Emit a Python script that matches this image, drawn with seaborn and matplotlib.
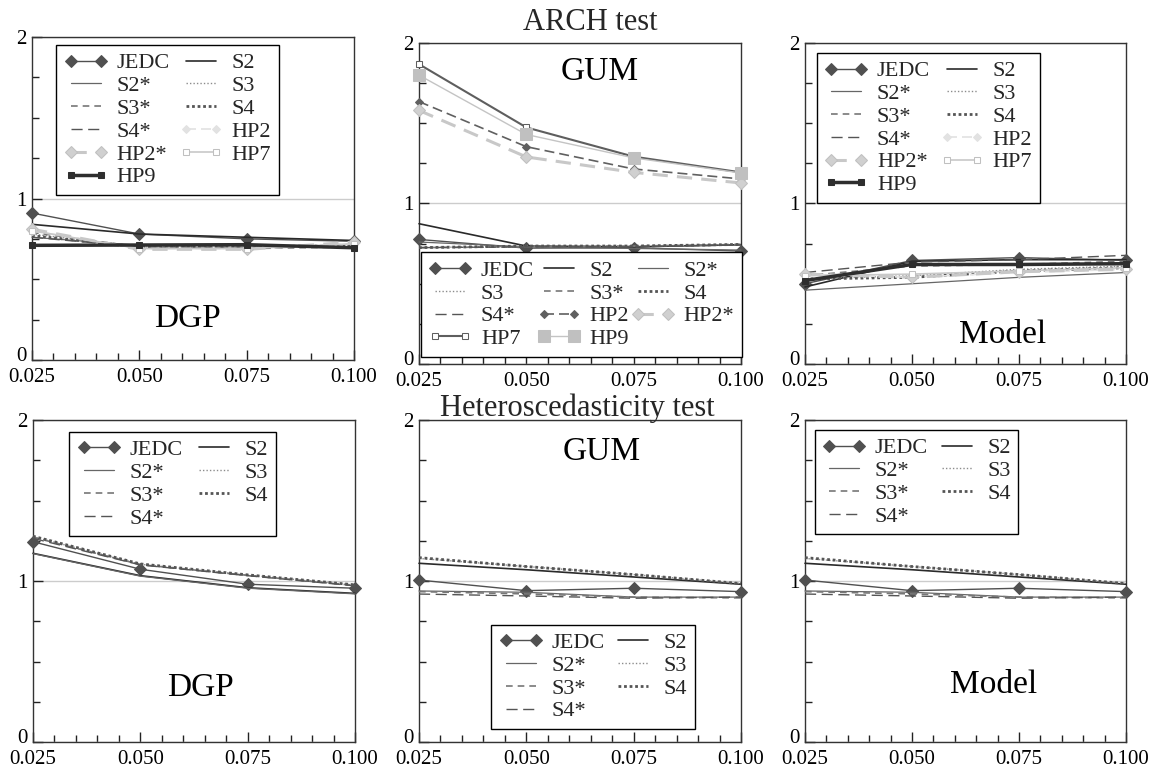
import matplotlib
matplotlib.use("Agg")
import matplotlib.pyplot as plt
import matplotlib.transforms as mtransforms
from matplotlib.ticker import FixedLocator, MultipleLocator
import seaborn as sns

# ---------------- data ----------------
alpha = [0.025, 0.050, 0.075, 0.100]
xtick_labels = ["0.025", "0.050", "0.075", "0.100"]
ytick_values = [0, 1, 2]
ytick_labels = ["0", "1", "2"]

series_all = ["JEDC", "S2", "S2*", "S3", "S3*", "S4", "S4*", "HP2", "HP2*", "HP7", "HP9"]
series_het = ["JEDC", "S2", "S2*", "S3", "S3*", "S4", "S4*"]

# ARCH test, DGP
arch_dgp = [
    [0.91, 0.78, 0.75, 0.735],   # JEDC
    [0.84, 0.78, 0.76, 0.74],    # S2
    [0.76, 0.71, 0.71, 0.70],    # S2*
    [0.78, 0.70, 0.70, 0.71],    # S3
    [0.79, 0.70, 0.69, 0.70],    # S3*
    [0.77, 0.70, 0.70, 0.71],    # S4
    [0.76, 0.70, 0.70, 0.70],    # S4*
    [0.80, 0.69, 0.69, 0.72],    # HP2
    [0.81, 0.685, 0.685, 0.73],  # HP2*
    [0.80, 0.69, 0.69, 0.72],    # HP7
    [0.71, 0.712, 0.714, 0.695], # HP9
]
# ARCH test, GUM
arch_gum = [
    [0.776, 0.722, 0.724, 0.704],
    [0.874, 0.735, 0.730, 0.743],
    [0.760, 0.730, 0.720, 0.710],
    [0.725, 0.735, 0.735, 0.745],
    [0.725, 0.730, 0.735, 0.745],
    [0.725, 0.735, 0.735, 0.745],
    [0.725, 0.730, 0.730, 0.742],
    [1.635, 1.354, 1.215, 1.153],
    [1.580, 1.290, 1.194, 1.128],
    [1.868, 1.474, 1.292, 1.194],
    [1.800, 1.430, 1.284, 1.190],
]
# ARCH test, Model
arch_model = [
    [0.50, 0.645, 0.663, 0.646],
    [0.48, 0.640, 0.650, 0.650],
    [0.46, 0.500, 0.540, 0.570],
    [0.53, 0.550, 0.590, 0.610],
    [0.55, 0.610, 0.620, 0.640],
    [0.53, 0.540, 0.580, 0.600],
    [0.57, 0.635, 0.650, 0.677],
    [0.56, 0.540, 0.570, 0.590],
    [0.56, 0.540, 0.575, 0.590],
    [0.55, 0.560, 0.580, 0.600],
    [0.52, 0.620, 0.620, 0.625],
]
# Heteroscedasticity test, DGP
het_dgp = [
    [1.244, 1.073, 0.980, 0.955],
    [1.172, 1.033, 0.958, 0.923],
    [1.170, 1.030, 0.955, 0.920],
    [1.275, 1.104, 1.037, 0.975],
    [1.272, 1.102, 1.035, 0.972],
    [1.278, 1.106, 1.038, 0.976],
    [1.265, 1.100, 1.033, 0.970],
]
# Heteroscedasticity test, GUM
het_gum = [
    [1.006, 0.940, 0.955, 0.934],
    [1.110, 1.070, 1.025, 0.980],
    [0.938, 0.930, 0.900, 0.900],
    [1.140, 1.090, 1.040, 0.985],
    [0.934, 0.920, 0.900, 0.895],
    [1.145, 1.090, 1.040, 0.984],
    [0.919, 0.907, 0.893, 0.900],
]
# Heteroscedasticity test, Model
het_model = [
    [1.006, 0.940, 0.955, 0.934],
    [1.110, 1.070, 1.025, 0.980],
    [0.938, 0.930, 0.900, 0.900],
    [1.140, 1.090, 1.040, 0.985],
    [0.934, 0.920, 0.900, 0.895],
    [1.145, 1.090, 1.040, 0.984],
    [0.919, 0.907, 0.893, 0.900],
]

# ---------------- styles ----------------
sns.set_theme(style="ticks")
plt.rcParams["font.family"] = ["Liberation Serif", "DejaVu Serif"]

style_a = {
    "JEDC": dict(color="#505050", linestyle="-", lw=1.0, marker="D", ms=6.5, mfc="#505050", mec="#505050"),
    "S2":   dict(color="#2a2a2a", linestyle="-", lw=1.2),
    "S2*":  dict(color="#666666", linestyle="-", lw=0.9),
    "S3":   dict(color="#8c8c8c", linestyle=(0, (1, 1.5)), lw=1.0),
    "S3*":  dict(color="#777777", linestyle=(0, (4, 3)), lw=1.2),
    "S4":   dict(color="#555555", linestyle=(0, (1, 1)), lw=2.0),
    "S4*":  dict(color="#555555", linestyle=(0, (8, 4)), lw=1.0),
    "HP2":  dict(color="#e2e2e2", linestyle=(0, (6, 3)), lw=1.2, marker="D", ms=4, mfc="#e2e2e2", mec="#e2e2e2"),
    "HP2*": dict(color="#c8c8c8", linestyle=(0, (5, 3)), lw=2.2, marker="D", ms=6.5, mfc="#d0d0d0", mec="#c0c0c0"),
    "HP7":  dict(color="#c8c8c8", linestyle="-", lw=1.2, marker="s", ms=4.5, mfc="white", mec="#c0c0c0"),
    "HP9":  dict(color="#2e2e2e", linestyle="-", lw=2.5, marker="s", ms=4.5, mfc="#2e2e2e", mec="#2e2e2e"),
}
style_b = dict(style_a)
style_b.update({
    "HP2":  dict(color="#606060", linestyle=(0, (6, 3)), lw=1.2, marker="D", ms=4.5, mfc="#606060", mec="#606060"),
    "HP7":  dict(color="#5e5e5e", linestyle="-", lw=1.5, marker="s", ms=5, mfc="white", mec="#5e5e5e"),
    "HP9":  dict(color="#c4c4c4", linestyle="-", lw=1.0, marker="s", ms=8, mfc="#c0c0c0", mec="#c0c0c0"),
})

W, H = 1155, 769
fig = plt.figure(figsize=(W / 100, H / 100), dpi=100)


def add_axes(l, t, r, b):
    return fig.add_axes([l / W, 1 - b / H, (r - l) / W, (b - t) / H])


def reorder_rowmajor(items, ncol):
    cols = [[] for _ in range(ncol)]
    for i, it in enumerate(items):
        cols[i % ncol].append(it)
    return [it for c in cols for it in c]


def panel(ax, names, values, styles, label, label_xy, ncol, leg_loc, leg_anchor, colsp):
    handles = []
    for name, vals in zip(names, values):
        st = dict(styles[name])
        sns.lineplot(x=alpha, y=vals, ax=ax, errorbar=None, legend=False, **st)
        line = ax.lines[-1]
        line.set_label(name)
        line.set_clip_on(False)
        line.set_zorder(3)
        handles.append(line)
    ax.set_xlim(0.025, 0.100)
    ax.set_ylim(0, 2)
    ax.set_xlabel("")
    ax.set_ylabel("")
    ax.xaxis.set_major_locator(FixedLocator(alpha))
    ax.set_xticklabels(xtick_labels)
    ax.xaxis.set_minor_locator(MultipleLocator(0.005))
    ax.yaxis.set_major_locator(FixedLocator(ytick_values))
    ax.set_yticklabels(ytick_labels)
    ax.yaxis.set_minor_locator(MultipleLocator(0.25))
    ax.tick_params(axis="both", which="both", direction="in", colors="#222222", labelcolor="black")
    ax.tick_params(axis="both", which="major", length=7, width=1, labelsize=15)
    ax.tick_params(axis="x", which="major", pad=6)
    ax.tick_params(axis="y", which="major", pad=4)
    ax.tick_params(axis="both", which="minor", length=5, width=1)
    ax.yaxis.grid(True, which="major", color="#cccccc", lw=1.0)
    ax.xaxis.grid(False)
    ax.set_axisbelow(True)
    for sp in ax.spines.values():
        sp.set_visible(True)
        sp.set_color("#333333")
        sp.set_linewidth(1.0)
    for lab in ax.get_yticklabels():
        lab.set_verticalalignment("center_baseline")
    # nudge the "0" label up a few pixels so it clears the x tick label below
    zero_lab = ax.yaxis.get_major_ticks()[0].label1
    zero_lab.set_transform(zero_lab.get_transform() +
                           mtransforms.ScaledTranslation(0, 4 / 72, fig.dpi_scale_trans))
    ax.text(label_xy[0], label_xy[1], label, transform=ax.transAxes,
            ha="center", va="center", fontsize=24, color="black")
    h2 = reorder_rowmajor(handles, ncol)
    leg = ax.legend(handles=h2, labels=[h.get_label() for h in h2], ncol=ncol,
                    loc=leg_loc, bbox_to_anchor=leg_anchor, borderaxespad=0,
                    fontsize=16, numpoints=2, handlelength=1.95, handletextpad=0.4,
                    columnspacing=colsp, labelspacing=0.1, borderpad=0.35,
                    frameon=True, fancybox=False, framealpha=1)
    leg.get_frame().set_edgecolor("black")
    leg.get_frame().set_linewidth(1.0)
    leg.set_zorder(5)


ax1 = add_axes(32, 37, 354, 360)
ax2 = add_axes(419, 43, 741, 364)
ax3 = add_axes(805, 43, 1126, 364)
ax4 = add_axes(33, 420, 355, 742)
ax5 = add_axes(419, 420, 741, 742)
ax6 = add_axes(805, 420, 1126, 742)

panel(ax1, series_all, arch_dgp, style_a, "DGP", (0.484, 0.127), 2, "upper left", (0.075, 0.975), 0.45)
panel(ax2, series_all, arch_gum, style_b, "GUM", (0.562, 0.91), 3, "lower left", (0.006, 0.022), 0.12)
panel(ax3, series_all, arch_model, style_a, "Model", (0.614, 0.09), 2, "upper left", (0.037, 0.969), 0.45)
panel(ax4, series_het, het_dgp, style_a, "DGP", (0.519, 0.168), 2, "upper left", (0.112, 0.963), 0.45)
panel(ax5, series_het, het_gum, style_a, "GUM", (0.568, 0.90), 2, "lower left", (0.224, 0.04), 0.3)
panel(ax6, series_het, het_model, style_a, "Model", (0.586, 0.177), 2, "upper left", (0.031, 0.969), 0.3)

fig.text(590 / W, 1 - 23 / H, "ARCH test", ha="center", va="center", fontsize=22)
fig.text(577 / W, 1 - 408 / H, "Heteroscedasticity test", ha="center", va="center", fontsize=22)

fig.savefig("out.png", dpi=100, facecolor="white")
